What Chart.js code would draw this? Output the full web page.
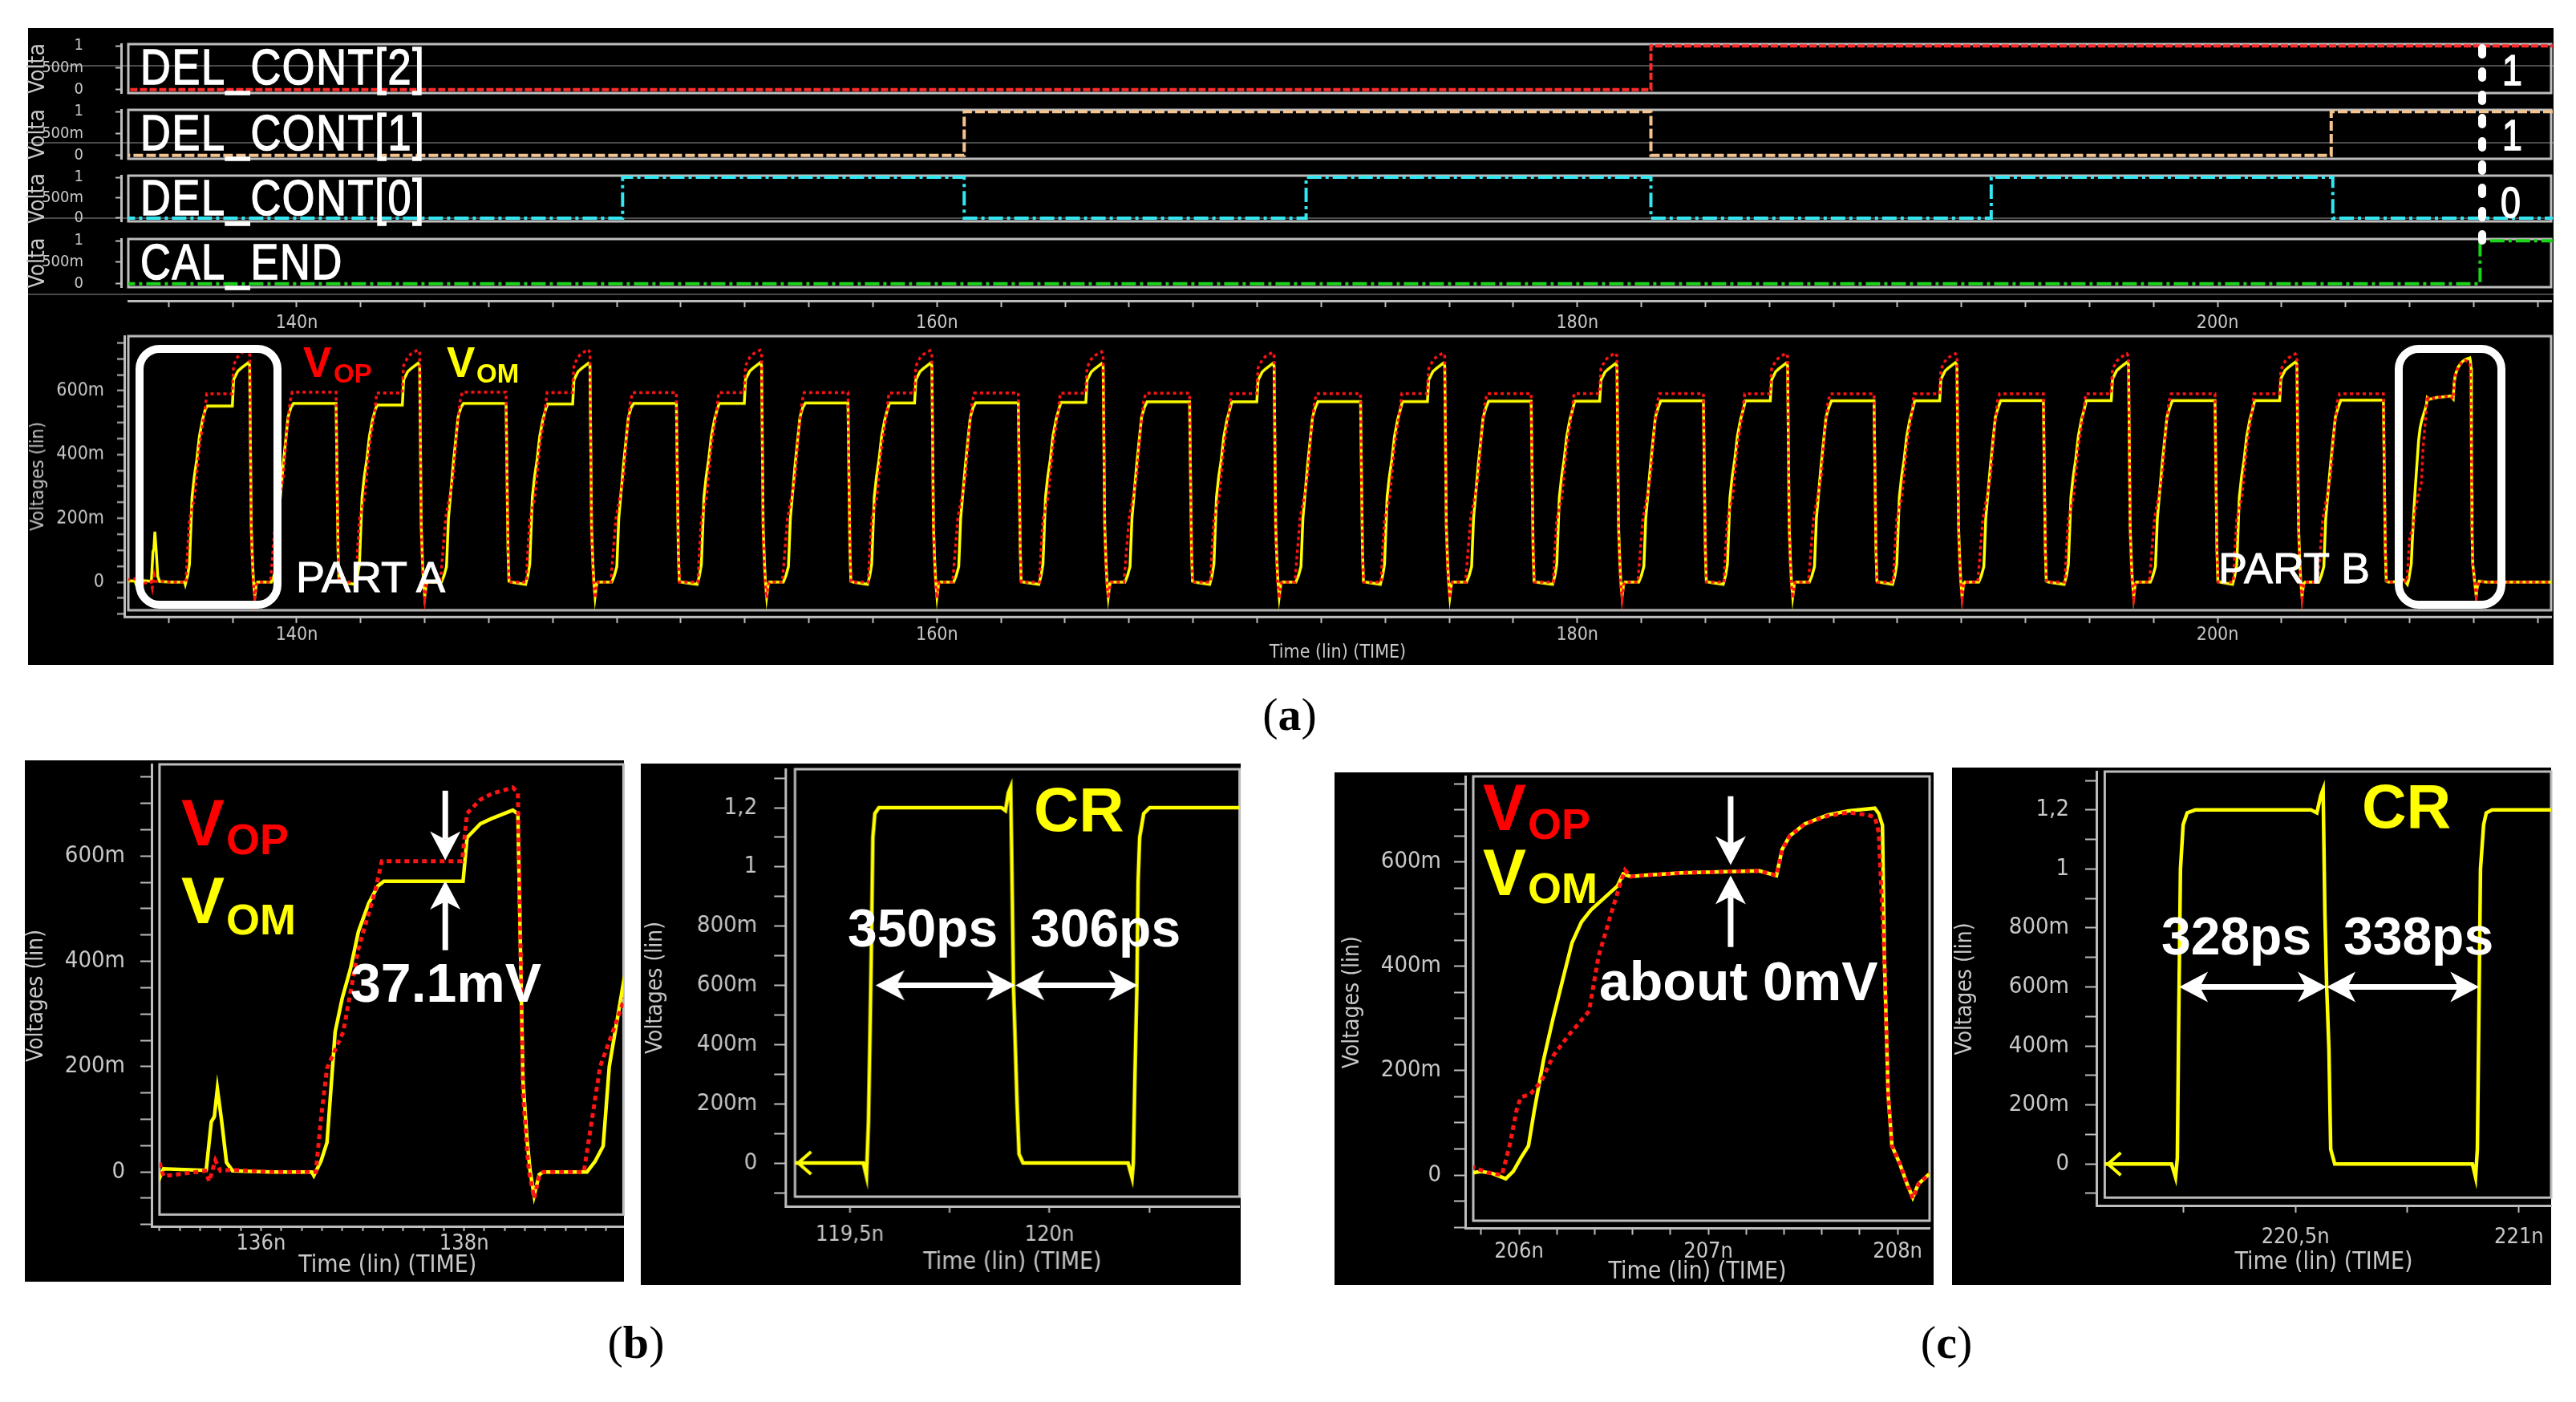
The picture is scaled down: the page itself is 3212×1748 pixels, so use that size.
<!DOCTYPE html>
<html>
<head>
<meta charset="utf-8">
<title>Offset calibration waveforms</title>
<script src="https://cdn.jsdelivr.net/npm/chart.js@4.4.1/dist/chart.umd.min.js"></script>
<style>
  body { margin: 0; background: #fff; }
  #page { position: relative; width: 3212px; height: 1748px; overflow: hidden; background: #fff; }
  .panel { position: absolute; background: #000; }
  .wrap { position: absolute; }
  .t { position: absolute; line-height: 1; white-space: nowrap; }
  .sig { font-family: 'Liberation Sans', Arial, sans-serif; color: #fff; letter-spacing: 2px; transform: scaleX(0.83); transform-origin: 0 0; -webkit-text-stroke: 1.5px #fff; }
  .b { font-family: 'Liberation Sans', Arial, sans-serif; font-weight: bold; }
  .reg { font-family: 'Liberation Sans', Arial, sans-serif; color: #fff; -webkit-text-stroke: 1px #fff; }
  .red { color: #ff0000; } .yel { color: #ffff00; } .wht { color: #fff; }
  .rule { position: absolute; left: 35px; width: 3149px; height: 2px; background: #4a4a4a; }
  .part { position: absolute; border: 10px solid #fff; border-radius: 30px; box-sizing: border-box; }
  .cap { position: absolute; width: 200px; text-align: center; line-height: 1; font-family: 'Liberation Serif', 'Times New Roman', serif; font-size: 58px; color: #000; }
</style>
</head>
<body>
<div id="page">
  <!-- black backgrounds of the simulator screenshots -->
  <div class="panel" style="left:35px;top:35px;width:3149px;height:794px"></div>
  <div class="panel" style="left:31px;top:948px;width:747px;height:650px"></div>
  <div class="panel" style="left:799px;top:952px;width:748px;height:650px"></div>
  <div class="panel" style="left:1664px;top:963px;width:747px;height:639px"></div>
  <div class="panel" style="left:2434px;top:957px;width:747px;height:645px"></div>
  <div class="rule" style="top:81px"></div>
  <div class="rule" style="top:177px"></div>
  <div class="rule" style="top:271px"></div>
  <div class="rule" style="top:366px"></div>

  <div id="charts"></div>

  <!-- panel (a) labels -->
  <div class="t sig" style="left:175px;top:52px;font-size:63px">DEL_CONT[2]</div>
  <div class="t sig" style="left:175px;top:134px;font-size:63px">DEL_CONT[1]</div>
  <div class="t sig" style="left:175px;top:215px;font-size:63px">DEL_CONT[0]</div>
  <div class="t sig" style="left:175px;top:295px;font-size:63px">CAL_END</div>
  <div class="t sig" style="left:3120px;top:60px;font-size:54px">1</div>
  <div class="t sig" style="left:3120px;top:141px;font-size:54px">1</div>
  <div class="t sig" style="left:3118px;top:225px;font-size:54px">0</div>
  <svg style="position:absolute;left:0;top:0" width="3212" height="400">
    <line x1="3095" y1="60" x2="3095" y2="302" stroke="#fff" stroke-width="10" stroke-dasharray="8 21" stroke-linecap="round"/>
  </svg>
  <div class="t b red" style="left:378px;top:425px;font-size:53px">V</div>
  <div class="t b red" style="left:416px;top:449px;font-size:33px">OP</div>
  <div class="t b yel" style="left:557px;top:425px;font-size:53px">V</div>
  <div class="t b yel" style="left:594px;top:449px;font-size:33px">OM</div>
  <div class="t reg" style="left:369px;top:692px;font-size:54px">PART A</div>
  <div class="t reg" style="left:2766px;top:681px;font-size:54px">PART B</div>
  <div class="part" style="left:169px;top:430px;width:182px;height:329px"></div>
  <div class="part" style="left:2986px;top:430px;width:138px;height:329px"></div>

  <!-- panel (b) labels -->
  <div class="t b red" style="left:226px;top:986px;font-size:81px">V</div>
  <div class="t b red" style="left:282px;top:1019px;font-size:54px">OP</div>
  <div class="t b yel" style="left:226px;top:1083px;font-size:81px">V</div>
  <div class="t b yel" style="left:282px;top:1119px;font-size:54px">OM</div>
  <div class="t b wht" style="left:437px;top:1191px;font-size:68px">37.1mV</div>
  <div class="t b yel" style="left:1289px;top:970px;font-size:78px">CR</div>
  <div class="t b wht" style="left:1057px;top:1124px;font-size:66px">350ps</div>
  <div class="t b wht" style="left:1285px;top:1124px;font-size:66px">306ps</div>

  <!-- panel (c) labels -->
  <div class="t b red" style="left:1849px;top:967px;font-size:81px">V</div>
  <div class="t b red" style="left:1905px;top:1000px;font-size:54px">OP</div>
  <div class="t b yel" style="left:1849px;top:1048px;font-size:81px">V</div>
  <div class="t b yel" style="left:1905px;top:1080px;font-size:54px">OM</div>
  <div class="t b wht" style="left:1994px;top:1189px;font-size:68px">about 0mV</div>
  <div class="t b yel" style="left:2945px;top:967px;font-size:77px">CR</div>
  <div class="t b wht" style="left:2695px;top:1134px;font-size:66px">328ps</div>
  <div class="t b wht" style="left:2922px;top:1134px;font-size:66px">338ps</div>

  <div class="cap" style="left:1508px;top:862px">(<b>a</b>)</div>
  <div class="cap" style="left:693px;top:1645px">(<b>b</b>)</div>
  <div class="cap" style="left:2327px;top:1645px">(<b>c</b>)</div>
</div>

<script>
// ---- digital control bits in (a): time (ns) where each level starts, and the level
const delCont2T = [134.5, 182.3, 210.5];
const delCont2V = [0, 1, 1];
const delCont1T = [134.5, 160.85, 182.3, 203.55, 210.5];
const delCont1V = [0, 1, 0, 1, 1];
const delCont0T = [134.5, 150.18, 160.85, 171.53, 182.3, 192.93, 203.6, 210.5];
const delCont0V = [0, 1, 0, 1, 0, 1, 0, 0];
const calEndT = [134.5, 208.2, 210.5];
const calEndV = [0, 1, 1];

// ---- VOP / VOM (mV). falling edge of every stepped pulse, read from (a)
const fallTimes = [138.54, 143.85, 149.17, 154.53, 159.85, 165.2, 170.54, 175.87, 181.25, 186.58, 191.87, 197.23, 202.49];
const vomStepLevel = [552, 555, 558, 560, 561, 563, 565, 566, 567, 568, 568, 569, 569];
const vopStepLevel = [590, 593, 594, 594, 593, 592, 591, 591, 591, 590, 590, 590, 590];
const vomPeakLevel = [687, 686, 686, 687, 686, 685, 685, 686, 685, 686, 688, 689, 690];
const vopPeakLevel = [730, 728, 729, 727, 726, 722, 720, 718, 718, 717, 716, 716, 715];
const vomFlatLevel = [560, 560, 560, 561, 562, 565, 566, 567, 568, 568, 569, 569, 570];
const vopFlatLevel = [595, 595, 594, 594, 593, 592, 591, 591, 591, 590, 590, 590, 590];

// shape of one cycle as seen in (b); times are offsets from the falling edge
const omRiseT = [-2.02, -1.95, -1.89, -1.81, -1.74, -1.66, -1.58, -1.48, -1.39];
const omRiseV = [-7, 20, 56, 266, 330, 385, 457, 510, 543];
const opRiseT = [-2.00, -1.95, -1.89, -1.73, -1.58, -1.42];
const opRiseV = [0, 100, 197, 266, 424, 530];
const omHoldT = [-1.33, -0.55];
const opHoldT = [-1.35, -0.56];
const peakT = [-0.51, -0.38, -0.27, -0.06, -0.01];
const omPeakDrop = [52, 26, 16, 0, 7];
const opPeakDrop = [49, 23, 12, 0, 10];
const omFallT = [0.04, 0.08, 0.11, 0.15, 0.20, 0.24];
const omFallV = [174, 62, 3, -45, -5, 0];
const opFallT = [0.04, 0.08, 0.10, 0.15, 0.20, 0.24];
const opFallV = [150, 40, 0, -50, -8, 0];
const omFlatRiseT = [0.67, 0.75, 0.83, 0.89, 1.04, 1.19, 1.28];
const omFlatRiseV = [0, 20, 49, 200, 371, 517, 548];
const opFlatRiseT = [0.64, 0.72, 0.80, 0.95, 1.04, 1.15, 1.25];
const opFlatRiseV = [0, 100, 200, 280, 330, 470, 565];
const omFlatHoldT = [1.36, 2.69];
const opFlatHoldT = [1.32, 2.69];
const omFlatFallT = [2.72, 2.75, 2.78, 2.85];
const omFlatFallV = [330, 100, 3, 0];
const opFlatFallT = [2.72, 2.76, 2.79, 2.85];
const opFlatFallV = [320, 80, 0, 0];

// start of the trace (glitch before the first pulse), from (b)
const omHeadT = [134.5, 134.95, 135.0, 135.04, 135.46, 135.51, 135.54, 135.57, 135.61, 135.66, 135.72, 136.1, 136.5];
const omHeadV = [4, 4, -12, 6, 3, 95, 105, 158, 100, 18, 2, 0, 0];
const opHeadT = [134.5, 134.96, 135.0, 135.04, 135.45, 135.49, 135.55, 135.6, 135.7, 136.1, 136.5];
const opHeadV = [6, 10, 18, -8, 2, -18, 22, 2, 4, 0, 0];

// last pulse after calibration, from (c)
const omTailT = [205.72, 205.80, 205.86, 205.93, 205.97, 206.01, 206.05, 206.08, 206.13, 206.18, 206.23, 206.28, 206.33, 206.38, 206.45, 206.52, 206.55, 206.59, 206.65, 206.86, 207.06, 207.27, 207.36, 207.39, 207.43, 207.51, 207.63, 207.74, 207.88, 207.90, 207.92, 207.93, 207.94, 207.95, 207.97, 208.01, 208.05, 208.08, 208.11, 208.17, 208.4, 210.5];
const omTailV = [2, 7, 3, -7, 7, 33, 56, 122, 221, 300, 373, 445, 485, 508, 531, 554, 577, 572, 574, 579, 581, 583, 574, 624, 650, 673, 690, 698, 703, 693, 670, 419, 287, 155, 56, 23, -17, -43, -17, 3, 0, 0];
const opTailT = [205.72, 205.76, 205.83, 205.91, 205.95, 205.99, 206.01, 206.06, 206.12, 206.18, 206.26, 206.37, 206.42, 206.49, 206.54, 206.56, 206.59, 206.65, 206.86, 207.06, 207.27, 207.36, 207.39, 207.43, 207.51, 207.63, 207.74, 207.84, 207.88, 207.90, 207.93, 207.94, 207.95, 207.97, 208.01, 208.05, 208.08, 208.11, 208.17, 208.4, 210.5];
const opTailV = [0, 15, 5, 0, 56, 129, 149, 155, 181, 228, 267, 314, 419, 505, 564, 584, 572, 574, 579, 581, 583, 574, 624, 650, 673, 688, 695, 690, 686, 657, 419, 287, 155, 56, 23, -17, -45, -17, 3, 0, 0];

// CR clock (V)
const crBT = [119.33, 119.534, 119.542, 119.547, 119.551, 119.554, 119.558, 119.563, 119.573, 119.88, 119.89, 119.897, 119.903, 119.907, 119.91, 119.919, 119.924, 119.934, 120.197, 120.207, 120.21, 120.214, 120.219, 120.222, 120.226, 120.236, 120.251, 120.5];
const crBV = [0, 0, -0.045, 0.14, 0.45, 0.70, 1.10, 1.18, 1.20, 1.20, 1.19, 1.25, 1.27, 0.90, 0.60, 0.20, 0.03, 0, 0, -0.05, 0, 0.29, 0.60, 0.95, 1.10, 1.18, 1.20, 1.20];
const crCT = [220.0, 220.223, 220.232, 220.236, 220.239, 220.243, 220.249, 220.258, 220.276, 220.535, 220.548, 220.557, 220.562, 220.566, 220.57, 220.575, 220.579, 220.588, 220.896, 220.903, 220.907, 220.91, 220.914, 220.921, 220.927, 220.94, 221.1];
const crCV = [0, 0, -0.045, 0.02, 0.48, 1.0, 1.15, 1.19, 1.2, 1.2, 1.19, 1.25, 1.27, 0.85, 0.6, 0.39, 0.05, 0, 0, -0.045, 0.05, 0.45, 1.0, 1.15, 1.19, 1.2, 1.2];

// measurement arrows: time, down-arrow from/to, up-arrow from/to (mV)
const gapArrowB = [137.815, 724, 592, 421, 553];
const gapArrowC = [207.118, 726, 594, 437, 574];
// CR edges at the 600m crossing
const crEdgesB = [119.565, 119.915, 120.221];
const crEdgesC = [220.240, 220.570, 220.911];

// ------------------------------------------------------------------
const COND = "'DejaVu Sans Condensed', sans-serif";
const LINE = '#bdbdbd';
const TEXT = '#c8c8c8';

function buildWave(s) {
  const pts = [];
  const add = (t, v) => pts.push({x: t, y: v});
  s.headT.forEach((t, i) => add(t, s.headV[i]));
  fallTimes.forEach((tf, k) => {
    s.riseT.forEach((d, i) => add(tf + d, s.riseV[i]));
    s.holdT.forEach(d => add(tf + d, s.hold[k]));
    peakT.forEach((d, i) => add(tf + d, s.peak[k] - s.peakDrop[i]));
    s.fallT.forEach((d, i) => add(tf + d, s.fallV[i]));
    s.flatRiseT.forEach((d, i) => add(tf + d, s.flatRiseV[i]));
    s.flatHoldT.forEach(d => add(tf + d, s.flat[k]));
    s.flatFallT.forEach((d, i) => add(tf + d, s.flatFallV[i]));
  });
  s.tailT.forEach((t, i) => add(t, s.tailV[i]));
  return pts;
}

const vomPts = buildWave({headT: omHeadT, headV: omHeadV, riseT: omRiseT, riseV: omRiseV, holdT: omHoldT, hold: vomStepLevel,
  peak: vomPeakLevel, peakDrop: omPeakDrop, fallT: omFallT, fallV: omFallV, flatRiseT: omFlatRiseT, flatRiseV: omFlatRiseV,
  flatHoldT: omFlatHoldT, flat: vomFlatLevel, flatFallT: omFlatFallT, flatFallV: omFlatFallV, tailT: omTailT, tailV: omTailV});
const vopPts = buildWave({headT: opHeadT, headV: opHeadV, riseT: opRiseT, riseV: opRiseV, holdT: opHoldT, hold: vopStepLevel,
  peak: vopPeakLevel, peakDrop: opPeakDrop, fallT: opFallT, fallV: opFallV, flatRiseT: opFlatRiseT, flatRiseV: opFlatRiseV,
  flatHoldT: opFlatHoldT, flat: vopFlatLevel, flatFallT: opFlatFallT, flatFallV: opFlatFallV, tailT: opTailT, tailV: opTailV});

const pairs = (T, V) => T.map((t, i) => ({x: t, y: V[i]}));
const isStep = (v, e) => Math.abs(v / e - Math.round(v / e)) < 1e-6;
const nsLabel = v => Math.round(v) + 'n';
const nsHalfLabel = v => String(Math.round(v * 10) / 10).replace('.', ',') + 'n';
const mvLabel = v => v === 0 ? '0' : Math.round(v) + 'm';
const voltLabel = v => Math.abs(v) < 1e-9 ? '0' : (v < 0.999 ? Math.round(v * 1000) + 'm' : String(Math.round(v * 10) / 10).replace('.', ','));
const digLabel = v => v === 0 ? '0' : (v === 1 ? '1' : '500m');

function axis(o) {
  return {
    type: 'linear', min: o.min, max: o.max,
    border: {display: true, color: LINE, width: 3},
    grid: {drawOnChartArea: false, color: LINE, tickLength: o.tl, tickWidth: 2},
    ticks: {stepSize: o.step, includeBounds: false, autoSkip: false, maxRotation: 0, minRotation: 0,
      padding: o.pad, color: TEXT, font: o.font, callback: v => isStep(v, o.every) ? o.fmt(v) : ''},
    title: o.title ? {display: true, text: o.title, color: TEXT, font: o.titleFont, padding: 0} : {display: false}
  };
}

function drawHead(c, x, dir) {
  c.beginPath();
  c.moveTo(x, 0); c.lineTo(x - dir * 36, -19); c.lineTo(x - dir * 26, 0); c.lineTo(x - dir * 36, 19);
  c.closePath(); c.fill();
}
function drawArrow(c, x1, y1, x2, y2, both) {
  const ang = Math.atan2(y2 - y1, x2 - x1), len = Math.hypot(x2 - x1, y2 - y1);
  c.save(); c.translate(x1, y1); c.rotate(ang);
  c.fillStyle = '#fff'; c.strokeStyle = '#fff'; c.lineWidth = 7;
  c.beginPath(); c.moveTo(both ? 26 : 0, 0); c.lineTo(len - 26, 0); c.stroke();
  drawHead(c, len, 1);
  if (both) drawHead(c, 0, -1);
  c.restore();
}

// frame box of each plot plus arrows / start chevrons
function decor(inL, inB, arrows, chevron) {
  return {
    id: 'decor',
    beforeDatasetsDraw(chart) {
      const a = chart.chartArea, c = chart.ctx;
      c.save(); c.strokeStyle = LINE; c.lineWidth = 3;
      c.strokeRect(a.left + inL, a.top, a.right - a.left - inL, a.bottom - a.top - inB);
      c.restore();
    },
    afterDatasetsDraw(chart) {
      const c = chart.ctx, xs = chart.scales.x, ys = chart.scales.y;
      (arrows || []).forEach(r => drawArrow(c, xs.getPixelForValue(r[0]), ys.getPixelForValue(r[1]),
        xs.getPixelForValue(r[2]), ys.getPixelForValue(r[3]), r[4]));
      if (chevron) {
        const x = chart.chartArea.left + inL + 4, y = ys.getPixelForValue(0);
        c.save(); c.strokeStyle = chevron; c.lineWidth = 4;
        c.beginPath(); c.moveTo(x + 16, y - 14); c.lineTo(x, y); c.lineTo(x + 16, y + 14); c.stroke();
        c.restore();
      }
    }
  };
}

function makeChart(area, W, H, scales, datasets, plugin) {
  const P = 30;
  const wrap = document.createElement('div');
  wrap.className = 'wrap';
  wrap.style.left = (area.l - W - P) + 'px';
  wrap.style.top = (area.t - P) + 'px';
  wrap.style.width = (area.r - area.l + W + 2 * P) + 'px';
  wrap.style.height = (area.b - area.t + H + 2 * P) + 'px';
  const canvas = document.createElement('canvas');
  wrap.appendChild(canvas);
  document.getElementById('charts').appendChild(wrap);
  const zero = s => { s.paddingLeft = s.paddingRight = s.paddingTop = s.paddingBottom = 0; };
  if (scales.x.display !== false) scales.x.afterFit = s => { s.height = H; zero(s); };
  if (scales.y.display !== false) scales.y.afterFit = s => { s.width = W; zero(s); };
  return new Chart(canvas, {
    type: 'line',
    data: {datasets},
    options: {
      responsive: true, maintainAspectRatio: false, animation: false, devicePixelRatio: 1, events: [],
      layout: {padding: P},
      scales,
      plugins: {legend: {display: false}, tooltip: {enabled: false}}
    },
    plugins: plugin ? [plugin] : []
  });
}

const line = (pts, color, w, dash, clip, extra) => Object.assign({
  data: pts.map(p => ({x: p.x, y: p.y})), borderColor: color, borderWidth: w, borderDash: dash || [],
  pointRadius: 0, tension: 0, fill: false, clip
}, extra || {});

// ---- (a) digital rows
const digRows = [
  {T: delCont2T, V: delCont2V, color: '#ff2a2a', dash: [9, 3], t: 55, b: 116},
  {T: delCont1T, V: delCont1V, color: '#f4c38e', dash: [12, 4], t: 137, b: 198},
  {T: delCont0T, V: delCont0V, color: '#33e6f2', dash: [18, 5, 4, 5], t: 219, b: 276},
  {T: calEndT, V: calEndV, color: '#19d419', dash: [18, 5, 4, 5], t: 298, b: 358}
];
digRows.forEach(r => {
  makeChart({l: 151, r: 3181, t: r.t, b: r.b}, 120, 0, {
    x: {type: 'linear', display: false, min: 134.515, max: 210.42},
    y: axis({min: -0.08, max: 1.04, step: 0.5, every: 0.5, fmt: digLabel, tl: 7, pad: 40,
      font: {family: COND, size: 20}, title: 'Volta', titleFont: {family: COND, size: 28}})
  }, [line(pairs(r.T, r.V), r.color, 4, r.dash, {left: -9, right: 2, top: 4, bottom: 4}, {stepped: true})],
  decor(9, 0));
});

// ---- (a) time axis between the digital rows and the analog plot
makeChart({l: 160, r: 3181, t: 350, b: 375}, 0, 50, {
  x: axis({min: 134.74, max: 210.42, step: 2, every: 20, fmt: nsLabel, tl: 8, pad: 6, font: {family: COND, size: 23}}),
  y: {type: 'linear', display: false, min: 0, max: 1}
}, [], null);

// ---- (a) analog outputs
makeChart({l: 155, r: 3181, t: 419, b: 768}, 121, 58.8, {
  x: axis({min: 134.615, max: 210.42, step: 2, every: 20, fmt: nsLabel, tl: 8, pad: 1, font: {family: COND, size: 23},
    title: 'Time (lin) (TIME)', titleFont: {family: COND, size: 23}}),
  y: axis({min: -108.15, max: 771, step: 50, every: 200, fmt: mvLabel, tl: 9, pad: 16, font: {family: COND, size: 23},
    title: 'Voltages (lin)', titleFont: {family: COND, size: 23}})
}, [
  line(vopPts, '#ff1414', 3.5, [4, 4], {left: -5, bottom: -8, top: 0, right: 0}),
  line(vomPts, '#ffff00', 3.5, [], {left: -5, bottom: -8, top: 0, right: 0})
], decor(5, 8));

// ---- zoomed views
function zoomedAnalog(area, W, H, xr, yr, xt, inL, inB, arrowSpec) {
  const clip = {left: -inL, bottom: -inB, top: 0, right: 0};
  const arrows = [[arrowSpec[0], arrowSpec[1], arrowSpec[0], arrowSpec[2], false],
                  [arrowSpec[0], arrowSpec[3], arrowSpec[0], arrowSpec[4], false]];
  makeChart(area, W, H, {
    x: axis({min: xr[0], max: xr[1], step: 0.2, every: xt.every, fmt: nsLabel, tl: xt.tl, pad: xt.pad,
      font: {family: COND, size: 27}, title: 'Time (lin) (TIME)', titleFont: {family: COND, size: 30}}),
    y: axis({min: yr[0], max: yr[1], step: 50, every: 200, fmt: mvLabel, tl: 14, pad: xt.ypad,
      font: {family: COND, size: 29}, title: 'Voltages (lin)', titleFont: {family: COND, size: 28}})
  }, [
    line(vopPts, '#ff1414', 5, [6, 5], clip),
    line(vomPts, '#ffff00', 4.5, [], clip)
  ], decor(inL, inB, arrows));
}
function zoomedClock(area, W, H, xr, T, V, xt, inL, inB, edges) {
  const clip = {left: -inL, bottom: -inB, top: 0, right: 0};
  const arrows = [[edges[0], 0.6, edges[1], 0.6, true], [edges[1], 0.6, edges[2], 0.6, true]];
  makeChart(area, W, H, {
    x: axis({min: xr[0], max: xr[1], step: 0.25, every: 0.5, fmt: nsHalfLabel, tl: 8, pad: xt.pad,
      font: {family: COND, size: 27}, title: 'Time (lin) (TIME)', titleFont: {family: COND, size: 30}}),
    y: axis({min: xr[2], max: 1.33, step: 0.1, every: 0.2, fmt: voltLabel, tl: 14, pad: xt.ypad,
      font: {family: COND, size: 29}, title: 'Voltages (lin)', titleFont: {family: COND, size: 28}})
  }, [line(pairs(T, V), '#ffff00', 4.5, [], clip)], decor(inL, inB, arrows, '#ffff00'));
}

zoomedAnalog({l: 189, r: 777.4, t: 952.6, b: 1529.4}, 160, 66, [134.922, 139.57], [-104.6, 774],
  {every: 2, tl: 5, pad: 0, ypad: 19}, 9.9, 15.5, gapArrowB);
zoomedClock({l: 979, r: 1544.6, t: 959, b: 1504}, 178, 88, [119.339, 120.476, -0.146], crBT, crBV,
  {pad: 12, ypad: 21}, 12, 12, crEdgesB);
zoomedAnalog({l: 1827, r: 2406, t: 968, b: 1531.5}, 157, 72.5, [205.716, 208.169], [-102.2, 764],
  {every: 1, tl: 8, pad: 5, ypad: 16}, 10, 9.5, gapArrowC);
zoomedClock({l: 2614, r: 3181, t: 961.8, b: 1503.6}, 180, 88.4, [220.055, 221.072, -0.143], crCT, crCV,
  {pad: 15, ypad: 20}, 10.4, 10.6, crEdgesC);
</script>
</body>
</html>
